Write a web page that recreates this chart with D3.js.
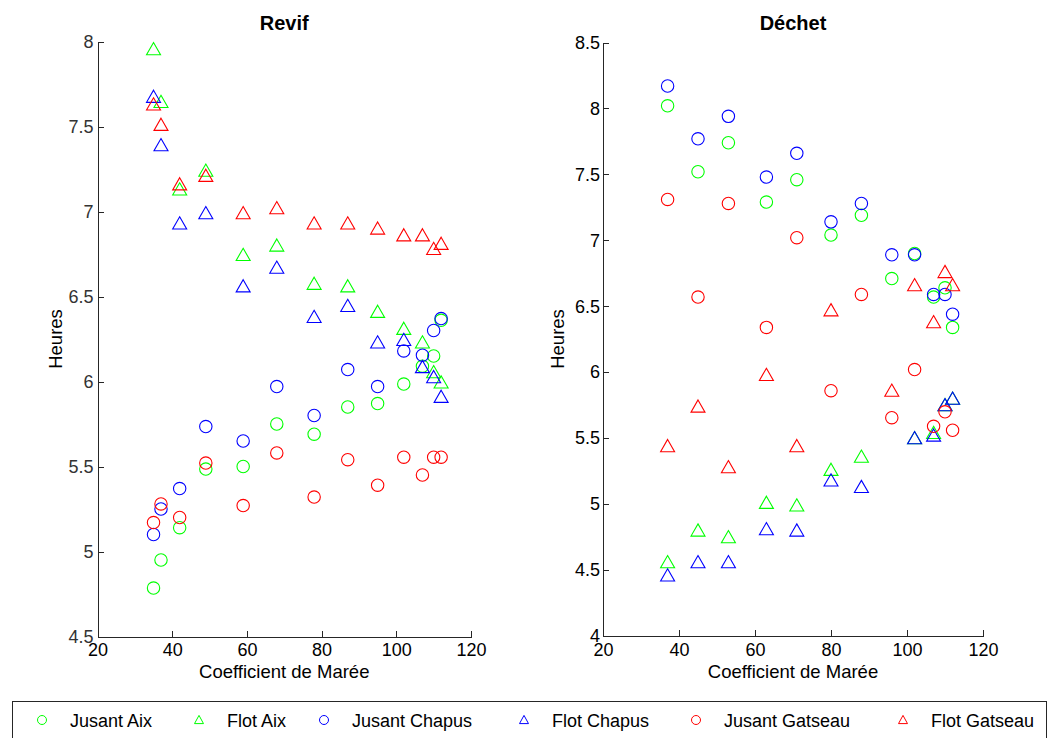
<!DOCTYPE html>
<html>
<head>
<meta charset="utf-8">
<script src="https://cdn.jsdelivr.net/npm/d3@7"></script>
<style>
  body { margin: 0; background: #fff; }
  svg { font-family: "Liberation Sans", Arial, sans-serif; }
  .axis path, .axis line { stroke: #262626; shape-rendering: crispEdges; }
  .axis text { font-size: 18px; fill: #000; }
</style>
</head>
<body>
<svg id="chart" width="1056" height="738"></svg>
<script>
// Revif (left panel)
const revifCoef = [35, 37, 42, 49, 59, 68, 78, 87, 95, 102, 107, 110, 112];
const revifJusantAix     = [4.785, 4.95, 5.14, 5.485, 5.50, 5.75, 5.69, 5.85, 5.87, 5.985, 6.09, 6.15, 6.36];
const revifFlotAix       = [7.955, 7.645, 7.13, 7.24, 6.745, 6.80, 6.575, 6.56, 6.41, 6.31, 6.23, 6.055, 5.995];
const revifJusantChapus  = [5.10, 5.25, 5.37, 5.735, 5.65, 5.97, 5.80, 6.07, 5.97, 6.18, 6.155, 6.30, 6.37];
const revifFlotChapus    = [7.675, 7.39, 6.93, 6.99, 6.56, 6.67, 6.38, 6.445, 6.23, 6.245, 6.085, 6.026, 5.91];
const revifJusantGatseau = [5.17, 5.28, 5.20, 5.52, 5.27, 5.58, 5.32, 5.54, 5.39, 5.555, 5.45, 5.555, 5.555];
const revifFlotGatseau   = [7.63, 7.51, 7.16, 7.21, 6.99, 7.02, 6.93, 6.93, 6.90, 6.86, 6.86, 6.78, 6.81];

// Déchet (right panel)
const dechetCoef = [37, 45, 53, 63, 71, 80, 88, 96, 102, 107, 110, 112];
const dechetJusantAix     = [8.02, 7.52, 7.74, 7.29, 7.46, 7.04, 7.19, 6.71, 6.90, 6.57, 6.64, 6.34];
const dechetFlotAix       = [4.56, 4.80, 4.75, 5.01, 4.99, 5.26, 5.36, null, 5.50, 5.54, 5.75, 5.80];
const dechetJusantChapus  = [8.17, 7.77, 7.94, 7.48, 7.66, 7.14, 7.28, 6.89, 6.89, 6.59, 6.59, 6.44];
const dechetFlotChapus    = [4.46, 4.56, 4.56, 4.81, 4.80, 5.18, 5.13, null, 5.50, 5.52, 5.75, 5.80];
const dechetJusantGatseau = [7.31, 6.57, 7.28, 6.34, 7.02, 5.86, 6.59, 5.655, 6.02, 5.59, 5.70, 5.56];
const dechetFlotGatseau   = [5.44, 5.74, 5.28, 5.98, 5.44, 6.47, null, 5.86, 6.66, 6.38, 6.76, 6.66];

const seriesNames = ["Jusant Aix", "Flot Aix", "Jusant Chapus", "Flot Chapus", "Jusant Gatseau", "Flot Gatseau"];
const seriesColors = ["#00ff00", "#00ff00", "#0000ff", "#0000ff", "#ff0000", "#ff0000"];
const seriesShapes = ["circle", "triangle", "circle", "triangle", "circle", "triangle"];

const xTicks = [20, 40, 60, 80, 100, 120];
const revifYTicks = [4.5, 5, 5.5, 6, 6.5, 7, 7.5, 8];
const dechetYTicks = [4, 4.5, 5, 5.5, 6, 6.5, 7, 7.5, 8, 8.5];

const svg = d3.select("#chart");

// triangle marker path, s = half width
function triPath(s) {
  const h = s * 0.8;
  return `M0,${-h - 1}L${s},${h}L${-s},${h}Z`;
}

function drawPanel(opts) {
  const x = d3.scaleLinear().domain([20, 120]).range(opts.xRange);
  const y = d3.scaleLinear().domain(opts.yDomain).range(opts.yRange);

  // x axis (ticks pointing inward like matlab)
  svg.append("g")
    .attr("class", "axis")
    .attr("transform", `translate(0,${opts.yRange[0]})`)
    .call(d3.axisBottom(x).tickValues(xTicks).tickSizeInner(-6).tickSizeOuter(0).tickPadding(7));

  const gy = svg.append("g")
    .attr("class", "axis")
    .attr("transform", `translate(${opts.xRange[0]},0)`)
    .call(d3.axisLeft(y).tickValues(opts.yTicks).tickFormat(d3.format("~g"))
      .tickSizeInner(-6).tickSizeOuter(0).tickPadding(opts.yPad));
  gy.selectAll("text").style("fill", opts.yTickColor);

  // title
  svg.append("text")
    .attr("x", (opts.xRange[0] + opts.xRange[1]) / 2)
    .attr("y", 30)
    .attr("text-anchor", "middle")
    .style("font-size", "20px")
    .style("font-weight", "bold")
    .text(opts.title);

  // axis labels
  svg.append("text")
    .attr("x", (opts.xRange[0] + opts.xRange[1]) / 2)
    .attr("y", 678)
    .attr("text-anchor", "middle")
    .style("font-size", "18.5px")
    .text("Coefficient de Marée");

  svg.append("text")
    .attr("transform", `translate(${opts.yLabelX},339) rotate(-90)`)
    .attr("text-anchor", "middle")
    .style("font-size", "18.5px")
    .text("Heures");

  // points
  opts.series.forEach((vals, i) => {
    const pts = opts.coef.map((c, j) => ({c: c, v: vals[j]})).filter(d => d.v != null);
    const g = svg.append("g");
    if (seriesShapes[i] === "circle") {
      g.selectAll("circle")
        .data(pts)
        .join("circle")
        .attr("cx", d => x(d.c))
        .attr("cy", d => y(d.v))
        .attr("r", 6.2)
        .attr("fill", "none")
        .attr("stroke", seriesColors[i])
        .attr("stroke-width", 1.1);
    } else {
      g.selectAll("path")
        .data(pts)
        .join("path")
        .attr("transform", d => `translate(${x(d.c)},${y(d.v)})`)
        .attr("d", triPath(7))
        .attr("fill", "none")
        .attr("stroke", seriesColors[i])
        .attr("stroke-width", 1.1);
    }
  });
}

drawPanel({
  title: "Revif",
  coef: revifCoef,
  series: [revifJusantAix, revifFlotAix, revifJusantChapus, revifFlotChapus, revifJusantGatseau, revifFlotGatseau],
  xRange: [97.5, 471],
  yDomain: [4.5, 8],
  yRange: [636.5, 41.5],
  yTicks: revifYTicks,
  yPad: 4,
  yTickColor: "#333",
  yLabelX: 62
});

drawPanel({
  title: "Déchet",
  coef: dechetCoef,
  series: [dechetJusantAix, dechetFlotAix, dechetJusantChapus, dechetFlotChapus, dechetJusantGatseau, dechetFlotGatseau],
  xRange: [603, 983],
  yDomain: [4, 8.5],
  yRange: [636, 42.5],
  yTicks: dechetYTicks,
  yPad: 3,
  yTickColor: "#000",
  yLabelX: 564
});

// legend
const legend = svg.append("g");
legend.append("rect")
  .attr("x", 12.5).attr("y", 701.5)
  .attr("width", 1034).attr("height", 60)
  .attr("fill", "#fff")
  .attr("stroke", "#262626");

const legendX = [42, 199, 324, 524, 696, 903];
seriesNames.forEach((name, i) => {
  const cx = legendX[i], cy = 720;
  if (seriesShapes[i] === "circle") {
    legend.append("circle")
      .attr("cx", cx).attr("cy", cy).attr("r", 4.5)
      .attr("fill", "none").attr("stroke", seriesColors[i]);
  } else {
    legend.append("path")
      .attr("transform", `translate(${cx},${cy})`)
      .attr("d", triPath(4.5))
      .attr("fill", "none").attr("stroke", seriesColors[i]);
  }
  legend.append("text")
    .attr("x", cx + 28)
    .attr("y", cy + 6.5)
    .style("font-size", "18px")
    .text(name);
});
</script>
</body>
</html>
